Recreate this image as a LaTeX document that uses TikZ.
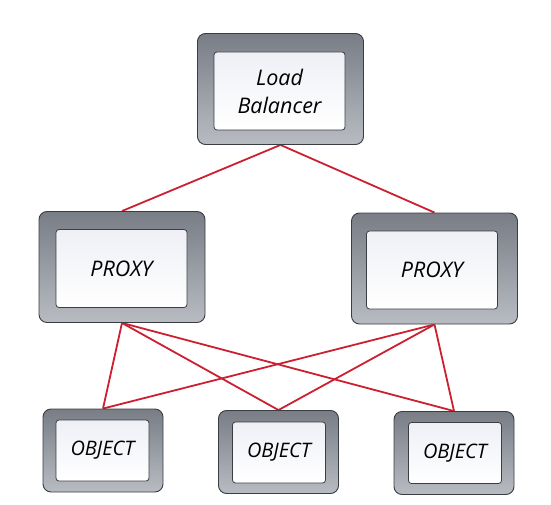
\documentclass[tikz,border=0pt]{standalone}
\usepackage{fontspec}
\setmainfont{Open Sans}
\usepackage{tikz}
\usepackage{xcolor}
\usetikzlibrary{shapes,arrows,positioning,backgrounds,fit,arrows.meta}

\definecolor{frametop}{HTML}{787D86}
\definecolor{framebot}{HTML}{B8BCC2}
\definecolor{paneltop}{HTML}{EEF0F6}
\definecolor{edgegray}{HTML}{3A3D42}
\definecolor{linkred}{HTML}{CC2030}

\tikzset{
    bigframe/.style={rectangle, draw=edgegray, line width=0.9pt, rounded corners=8pt, top color=frametop, bottom color=framebot, minimum width=166pt, minimum height=111pt},
    smallframe/.style={bigframe, minimum width=120pt, minimum height=83pt},
    bigpanel/.style={rectangle, draw=edgegray, line width=0.8pt, rounded corners=3pt, top color=paneltop, bottom color=white, minimum width=131pt, minimum height=78pt, font=\fontsize{21.5}{28}\selectfont\itshape, align=center},
    smallpanel/.style={bigpanel, minimum width=93pt, minimum height=61pt, font=\fontsize{20}{24}\selectfont\itshape},
    link/.style={draw=linkred, line width=1.8pt}
}

\begin{document}
\begin{tikzpicture}[x=1pt, y=-1pt]
    \useasboundingbox (0,0) rectangle (551,505);

    % Load balancer
    \node[bigframe] (lb) at (280.5,89) {};
    \node[bigpanel] (lbin) at (279.5,91) {Load\\Balancer};

    % Proxies
    \node[bigframe] (pxa) at (122,267) {};
    \node[bigpanel] (pxain) at (121.5,268.5) {PROXY};
    \node[bigframe] (pxb) at (434.5,268.5) {};
    \node[bigpanel] (pxbin) at (432,270) {PROXY};

    % Objects
    \node[smallframe] (oba) at (103,450.5) {};
    \node[smallpanel] (obain) at (102.5,450.5) {OBJECT};
    \node[smallframe] (obb) at (278.5,452) {};
    \node[smallpanel] (obbin) at (279,452.5) {OBJECT};
    \node[smallframe] (obc) at (454,453) {};
    \node[smallpanel] (obcin) at (455,453) {OBJECT};

    % Links
    \begin{scope}[on background layer]
        \draw[link] (lb.south) -- (pxa.north);
        \draw[link] (lb.south) -- (pxb.north);
        \foreach \p in {pxa,pxb} {
            \foreach \o in {oba,obb,obc} {
                \draw[link] (\p.south) -- (\o.north);
            }
        }
    \end{scope}
\end{tikzpicture}
\end{document}
